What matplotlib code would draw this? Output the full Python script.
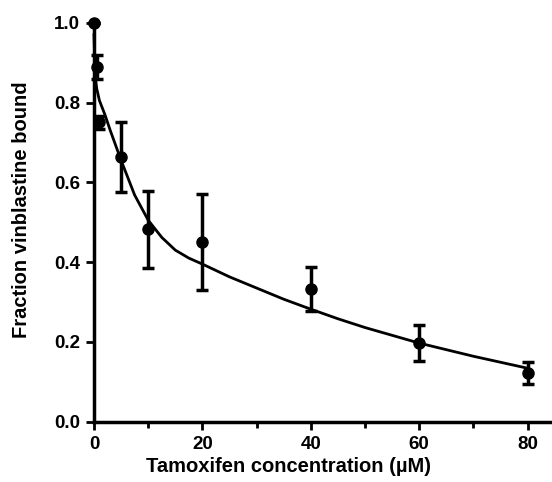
import matplotlib
matplotlib.use('Agg')
import matplotlib.pyplot as plt
from matplotlib.ticker import MultipleLocator

# measured points (tamoxifen uM, fraction bound, error)
conc = [0, 0.5, 1, 5, 10, 20, 40, 60, 80]
fraccion = [1.0, 0.89, 0.75, 0.663, 0.482, 0.451, 0.332, 0.197, 0.122]
error = [0.0, 0.03, 0.017, 0.087, 0.096, 0.12, 0.055, 0.045, 0.028]

# fitted curve
curva_x = [0, 0.2, 0.5, 1, 2, 3, 5, 7.5, 10, 12.5, 15, 17.5, 20, 25, 30, 35,
           40, 45, 50, 60, 70, 80]
curva_y = [0.97, 0.87, 0.835, 0.805, 0.77, 0.73, 0.655, 0.568, 0.505, 0.462,
           0.43, 0.41, 0.395, 0.363, 0.335, 0.307, 0.282, 0.258, 0.236, 0.197,
           0.164, 0.134]

plt.rcParams['font.family'] = ['Liberation Sans', 'DejaVu Sans']
plt.rcParams['font.weight'] = 'bold'

fig = plt.figure(figsize=(5.52, 4.82), dpi=100)
ax = fig.add_axes([94 / 552, 1 - 421.7 / 482, 1 - 94 / 552, (421.7 - 22.7) / 482])

ax.plot(curva_x, curva_y, color='black', lw=2, clip_on=False, zorder=2)
ax.errorbar(conc, fraccion, yerr=error, fmt='o', color='black', ms=8,
            elinewidth=2.5, capsize=4, capthick=2.5, clip_on=False, zorder=3)

ax.set_xlim(0, 84.5)
ax.set_ylim(0, 1.0)
ax.xaxis.set_major_locator(MultipleLocator(20))
ax.xaxis.set_minor_locator(MultipleLocator(10))
ax.yaxis.set_major_locator(MultipleLocator(0.2))
ax.yaxis.set_major_formatter(plt.FormatStrFormatter('%.1f'))

for lado in ['top', 'right']:
    ax.spines[lado].set_visible(False)
for lado in ['left', 'bottom']:
    ax.spines[lado].set_linewidth(2.5)

ax.tick_params(which='major', direction='out', length=6, width=2,
               labelsize=13.5, pad=4)
ax.tick_params(which='minor', direction='out', length=4, width=2)
for lbl in ax.get_xticklabels() + ax.get_yticklabels():
    lbl.set_fontweight('bold')

fig.text(289 / 552, 1 - 467 / 482, 'Tamoxifen concentration (µM)',
         ha='center', va='center', fontsize=14.5, fontweight='bold')
fig.text(22 / 552, 1 - 210 / 482, 'Fraction vinblastine bound',
         ha='center', va='center', rotation=90, fontsize=14.5, fontweight='bold')

fig.savefig('out.png', dpi=100)
